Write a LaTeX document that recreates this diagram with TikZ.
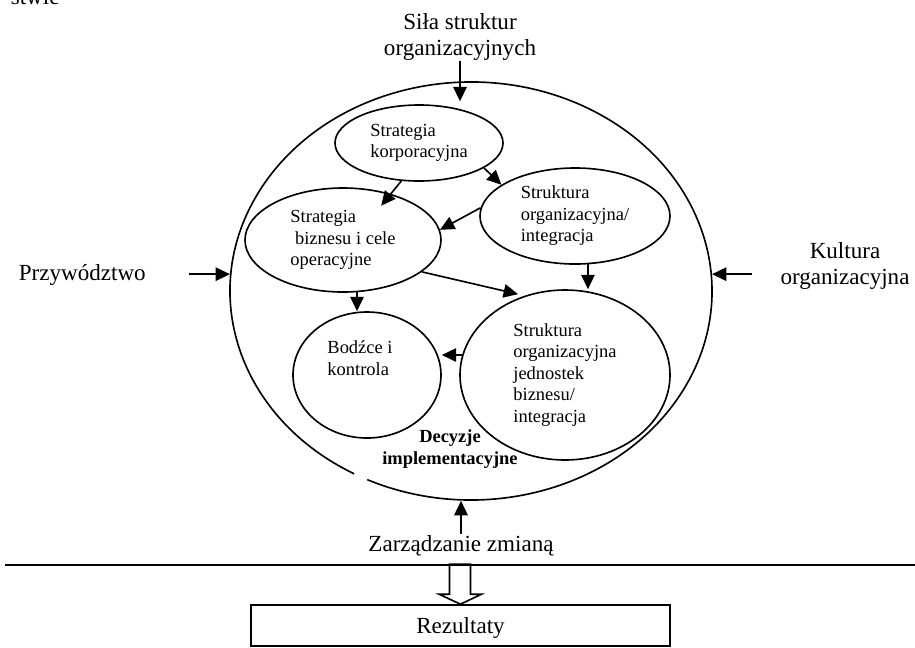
\documentclass[tikz,border=0pt]{standalone}
\usepackage{fontspec}
\setmainfont{Liberation Serif}
\usetikzlibrary{calc, positioning, arrows.meta, shapes.geometric}
\newcommand{\pxu}{0.52pt}

\begin{document}
\begin{tikzpicture}[x=0.52pt, y=-0.52pt, line width=0.85pt,
    arr/.style={-{Triangle[length=7.5pt,width=7pt]}},
    txt/.style={inner sep=0pt, align=left, font=\fontsize{9.6}{11.2}\selectfont},
    ell/.style={txt, ellipse, draw},
    big/.style={inner sep=0pt, align=center, font=\fontsize{12}{13.5}\selectfont}]
    \useasboundingbox (0,0) rectangle (915,647);

    % cut-off text at the top
    \node[big, anchor=base west] (stwie) at (10,4) {stwie};

    % outer ellipse, drawn as an arc with a small gap at the lower left
    \node[ellipse, inner sep=0pt, minimum width=482*\pxu, minimum height=418*\pxu] (outer) at (471,291) {};
    \draw (471,291) ++(119:241 and 209) arc[start angle=119, end angle=475.5, x radius=241, y radius=209];

    % inner ellipses
    \node[ell, minimum width=168*\pxu, minimum height=76*\pxu] (korp) at (419,143) {Strategia\\korporacyjna};
    \node[ell, minimum width=190*\pxu, minimum height=96*\pxu] (org) at (575,216) {Struktura\\organizacyjna/\\integracja};
    \node[ell, minimum width=196*\pxu, minimum height=104*\pxu] (biz) at (343,240) {Strategia\\\ biznesu i cele\\operacyjne};
    \node[ell, minimum width=148*\pxu, minimum height=126*\pxu] (bodzce) at (367,375) {};
    \node[txt] (bodzcetxt) at (360,358) {Bodźce i\\kontrola};
    \node[ell, minimum width=210*\pxu, minimum height=170*\pxu] (jedn) at (565,375) {Struktura\\organizacyjna\\jednostek\\biznesu/\\integracja};
    \node[txt, align=center, font=\fontsize{9.6}{11.4}\selectfont\bfseries] (decyzje) at (450,449) {Decyzje\\implementacyjne};

    % labels round the outer ellipse
    \node[big] (sila) at (460,37) {Siła struktur\\organizacyjnych};
    \node[big, anchor=base west] (przyw) at (18,280) {Przywództwo};
    \node[big] (kult) at (845,266) {Kultura\\organizacyjna};
    \node[big, anchor=base] (zarz) at (461,551) {Zarządzanie zmianą};

    % rule and result box
    \coordinate (ruleL) at (5,565);
    \coordinate (ruleR) at (915,565);
    \draw[line width=1pt] (ruleL) -- (ruleR);
    \node[draw, big, text depth=0pt, minimum width=419*\pxu, minimum height=41*\pxu] (rez) at (460.5,625.5) {Rezultaty};
    \draw (rez.north) -- ++(-21.5,-10) -- ++(10.5,0) -- ++(0,-30) -- ++(21,0) -- ++(0,30) -- ++(11,0) -- cycle;

    % outside influences
    \draw[arr, shorten >=1.5pt] (sila.south) -- (sila.south |- korp.north);
    \draw[arr, shorten <=22pt] (outer.176 -| przyw.east) -- (outer.176);
    \draw[arr, shorten <=14.5pt] (outer.4 -| kult.west) -- (outer.4);
    \draw[arr] (zarz.north) -- (zarz.north |- outer.south);

    % links between the decisions
    \draw[arr] (korp.-21) -- (org.157);
    \draw[arr, shorten >=-8pt] (korp.-115) -- (biz.44);
    \draw[arr] (org.175) -- (biz.6);
    \draw[arr, shorten >=3.5pt] (biz.-22) -- (jedn.117);
    \draw[arr] (org.-75) -- (org.-75 |- jedn.north);
    \draw[arr] (biz.-75) -- (biz.-75 |- bodzce.north);
    \draw[arr] (jedn.169) -- (jedn.169 -| bodzce.east);
\end{tikzpicture}
\end{document}
